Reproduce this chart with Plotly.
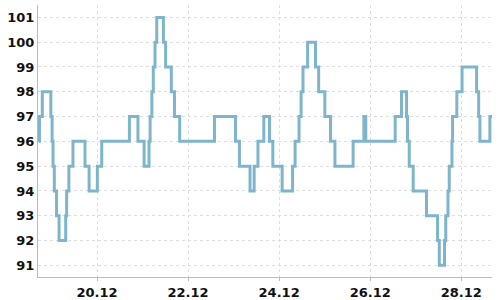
import plotly.graph_objects as go

times = [
    "2023-12-18 17:10", "2023-12-18 17:40", "2023-12-18 19:10", "2023-12-18 23:40",
    "2023-12-19 00:20", "2023-12-19 00:50", "2023-12-19 01:30", "2023-12-19 02:40",
    "2023-12-19 04:00", "2023-12-19 07:30", "2023-12-19 08:00", "2023-12-19 09:10",
    "2023-12-19 11:20", "2023-12-19 17:40", "2023-12-19 19:50", "2023-12-20 00:10",
    "2023-12-20 02:30", "2023-12-20 17:05", "2023-12-20 21:35", "2023-12-21 00:50",
    "2023-12-21 03:25", "2023-12-21 04:00", "2023-12-21 04:55", "2023-12-21 05:40",
    "2023-12-21 06:35", "2023-12-21 07:30", "2023-12-21 11:00", "2023-12-21 12:10",
    "2023-12-21 15:10", "2023-12-21 16:50", "2023-12-21 19:35", "2023-12-22 13:55",
    "2023-12-23 01:00", "2023-12-23 03:05", "2023-12-23 08:40", "2023-12-23 10:50",
    "2023-12-23 12:50", "2023-12-23 15:55", "2023-12-23 18:55", "2023-12-23 20:40",
    "2023-12-24 01:35", "2023-12-24 07:05", "2023-12-24 08:25", "2023-12-24 10:30",
    "2023-12-24 11:35", "2023-12-24 12:35", "2023-12-24 15:00", "2023-12-24 19:10",
    "2023-12-24 20:50", "2023-12-25 00:05", "2023-12-25 03:05", "2023-12-25 05:25",
    "2023-12-25 15:00", "2023-12-25 20:40", "2023-12-25 21:40", "2023-12-26 13:10",
    "2023-12-26 16:30", "2023-12-26 19:10", "2023-12-26 19:40", "2023-12-26 20:35",
    "2023-12-26 22:40", "2023-12-27 05:40", "2023-12-27 11:30", "2023-12-27 12:25",
    "2023-12-27 15:10", "2023-12-27 15:50", "2023-12-27 17:00", "2023-12-27 17:40",
    "2023-12-27 19:05", "2023-12-27 19:25", "2023-12-27 21:40", "2023-12-28 00:25",
    "2023-12-28 08:05", "2023-12-28 09:10", "2023-12-28 09:50", "2023-12-28 15:05",
    "2023-12-28 16:30",
]
values = [
    96, 97, 98, 97,
    96, 95, 94, 93,
    92, 93, 94, 95,
    96, 95, 94, 95,
    96, 97, 96, 95,
    96, 97, 98, 99,
    100, 101, 100, 99,
    98, 97, 96, 97,
    96, 95, 94, 95,
    96, 97, 96, 95,
    94, 95, 96, 97,
    98, 99, 100, 99,
    98, 97, 96, 95,
    96, 97, 96, 97,
    98, 97, 96, 95,
    94, 93, 92, 91,
    92, 93, 94, 95,
    96, 97, 98, 99,
    98, 97, 96, 97,
    97,
]
x_tick_vals = ["2023-12-20", "2023-12-22", "2023-12-24", "2023-12-26", "2023-12-28"]
x_tick_text = ["20.12", "22.12", "24.12", "26.12", "28.12"]
y_ticks = [91, 92, 93, 94, 95, 96, 97, 98, 99, 100, 101]

fig = go.Figure()
fig.add_trace(go.Scatter(
    x=times, y=values, mode="lines",
    line=dict(shape="hv", color="#7eb5cd", width=3),
    showlegend=False, hoverinfo="skip",
))

tick_font = dict(family="DejaVu Sans", size=13, color="#111111", weight="bold")
fig.update_layout(
    width=500, height=300,
    margin=dict(l=38, r=8, t=5, b=23),
    paper_bgcolor="white", plot_bgcolor="white",
    xaxis=dict(
        range=["2023-12-18 16:54", "2023-12-28 16:12"],
        tickvals=x_tick_vals, ticktext=x_tick_text,
        showgrid=True, gridcolor="#dedede", griddash="3px,3px", gridwidth=1,
        showline=True, linecolor="#bbbbbb", linewidth=1,
        ticks="outside", ticklen=3, tickcolor="#bbbbbb",
        tickfont=tick_font, zeroline=False, automargin=False,
    ),
    yaxis=dict(
        range=[90.53, 101.5],
        tickvals=y_ticks,
        showgrid=True, gridcolor="#dedede", griddash="3px,3px", gridwidth=1,
        showline=True, linecolor="#bbbbbb", linewidth=1,
        ticks="", tickfont=tick_font, zeroline=False, automargin=False,
    ),
)
fig.write_html("out.html")
